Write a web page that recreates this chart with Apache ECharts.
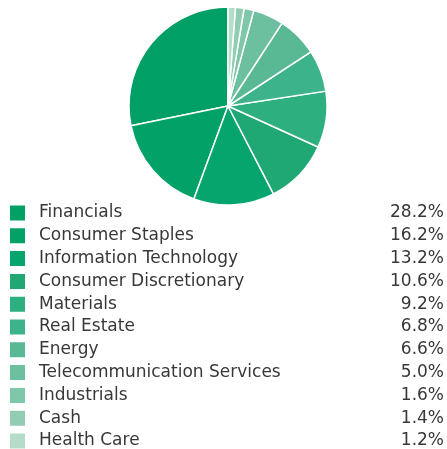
<!DOCTYPE html>
<html><head><meta charset="utf-8">
<script src="https://cdn.jsdelivr.net/npm/echarts@6/dist/echarts.min.js"></script>
<style>html,body{margin:0;padding:0;background:#fff}#c{width:447px;height:449px}</style>
</head><body><div id="c"></div>
<script>
const categories = ["Financials","Consumer Staples","Information Technology","Consumer Discretionary","Materials","Real Estate","Energy","Telecommunication Services","Industrials","Cash","Health Care"];
const values = [28.2,16.2,13.2,10.6,9.2,6.8,6.6,5.0,1.6,1.4,1.2];
const colors = ["#009f65","#01a167","#06a56d","#1fa873","#2daf7f","#3cb38a","#58b994","#6cc09f","#7fc7a9","#90cdb3","#b4dcc9"];

const chart = echarts.init(document.getElementById('c'), null, {renderer:'canvas'});
const valMap = {};
categories.forEach((c,i)=>valMap[c]=values[i]);
const FF = 'DejaVu Sans';
chart.setOption({
  animation:false,
  color: colors,
  legend:{
    orient:'vertical', left:8, top:203.5, height:300, padding:0,
    itemWidth:17, itemHeight:17, itemGap:3.8,
    icon:'rect', selectedMode:false,
    data: categories,
    formatter: n => `{n|${n}}{v|${valMap[n].toFixed(1)}%}`,
    textStyle:{
      fontFamily:FF, fontSize:17, color:'#383838', lineHeight:17, height:17,
      rich:{
        n:{fontFamily:FF, fontSize:17, color:'#383838', lineHeight:17, height:17, width:330, padding:[0,0,0,8]},
        v:{fontFamily:FF, fontSize:17, color:'#383838', lineHeight:17, height:17, width:75, align:'right'}
      }
    }
  },
  series:[{
    type:'pie', center:[228,106], radius:[0,99],
    startAngle:90, clockwise:false,
    label:{show:false}, labelLine:{show:false},
    emphasis:{disabled:true},
    itemStyle:{borderColor:'#fff', borderWidth:1.5},
    data: categories.map((c,i)=>({name:c, value:values[i]}))
  }]
});
</script></body></html>
